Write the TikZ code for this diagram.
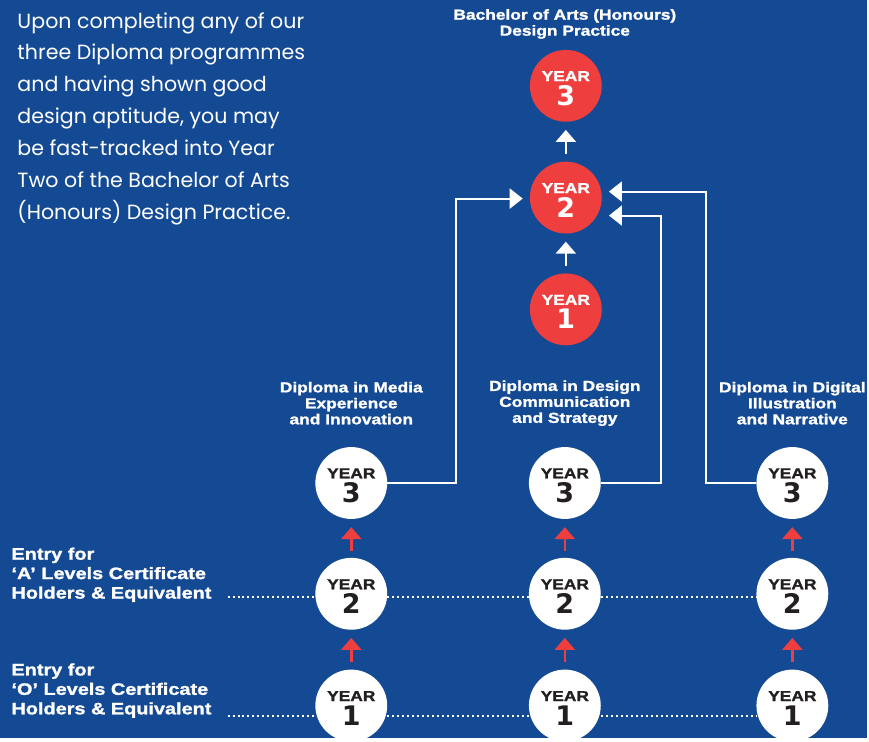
\documentclass[tikz,border=0pt]{standalone}
\usepackage{fontspec}
\setmainfont{Poppins}
\newfontfamily\gothic{Liberation Sans}[FakeStretch=1.2, BoldFeatures={FakeBold=1.4}]
\newfontfamily\digits{DejaVu Sans}
\usetikzlibrary{arrows.meta}

\definecolor{bgblue}{HTML}{144A94}
\definecolor{yearred}{HTML}{EE3E3E}
\definecolor{inkdark}{HTML}{231F20}

\newcommand{\yr}[1]{\rule{0pt}{15pt}YEAR\\{\digits\fontsize{27}{27}\selectfont #1}}

\tikzset{
  yearbase/.style={circle, minimum size=72pt, inner sep=0pt, align=center,
    font=\gothic\bfseries\fontsize{14.5}{24}\selectfont},
  redyear/.style={yearbase, fill=yearred, text=white},
  whiteyear/.style={yearbase, fill=white, text=inkdark},
  headtext/.style={text=white, align=center, font=\gothic\bfseries\fontsize{14.5}{16}\selectfont},
  entrytext/.style={text=white, align=left, anchor=west, font=\gothic\bfseries\fontsize{16.6}{19.5}\selectfont},
  uparrow/.style={line width=2.5pt, -{Triangle[width=20pt,length=12pt]}, shorten <=7pt, shorten >=8pt},
  flow/.style={draw=white, line width=2pt, -{Triangle[width=20pt,length=13pt]}, shorten >=7pt},
  dotline/.style={draw=white, line width=2pt, dash pattern=on 2pt off 3pt}
}

\begin{document}
\begin{tikzpicture}[x=1pt,y=-1pt]
\fill[bgblue] (0,0) rectangle (869,740);

% intro text
\node[text=white, align=left, anchor=west, font=\fontsize{20.6}{32}\selectfont] (intro) at (14,119)
  {Upon completing any of our\\three Diploma programmes\\and having shown good\\design aptitude, you may\\be fast-tracked into Year\\Two of the Bachelor of Arts\\(Honours) Design Practice.};

% degree
\node[headtext] (batitle) at (566,24) {Bachelor of Arts (Honours)\\Design Practice};
\node[redyear] (b3) at (567,86) {\yr{3}};
\node[redyear] (b2) at (567,198) {\yr{2}};
\node[redyear] (b1) at (567,310) {\yr{1}};

% diplomas
\node[headtext] (mtitle) at (352,404) {Diploma in Media\\Experience\\and Innovation};
\node[headtext] (ctitle) at (566,404) {Diploma in Design\\Communication\\and Strategy};
\node[headtext] (dtitle) at (794,404) {Diploma in Digital\\Illustration\\and Narrative};

\node[whiteyear] (m3) at (352,484) {\yr{3}};
\node[whiteyear] (m2) at (352,595) {\yr{2}};
\node[whiteyear] (m1) at (352,707) {\yr{1}};
\node[whiteyear] (c3) at (566,484) {\yr{3}};
\node[whiteyear] (c2) at (566,595) {\yr{2}};
\node[whiteyear] (c1) at (566,707) {\yr{1}};
\node[whiteyear] (d3) at (794,484) {\yr{3}};
\node[whiteyear] (d2) at (794,595) {\yr{2}};
\node[whiteyear] (d1) at (794,707) {\yr{1}};

% entry levels
\node[entrytext] (aentry) at (8,576) {Entry for\\‘A’ Levels Certificate\\Holders \& Equivalent};
\node[entrytext] (oentry) at (8,692) {Entry for\\‘O’ Levels Certificate\\Holders \& Equivalent};

\coordinate (alvl) at (228,598);
\coordinate (olvl) at (228,717);
\coordinate (mbend) at (457,199);
\coordinate (cbend) at (662,216);
\coordinate (dbend) at (707,192);

\path[draw=white,uparrow] (b1) -- (b2);
\path[draw=white,uparrow] (b2) -- (b3);
\path[draw=yearred,uparrow] (m1) -- (m2);
\path[draw=yearred,uparrow] (m2) -- (m3);
\path[draw=yearred,uparrow] (c1) -- (c2);
\path[draw=yearred,uparrow] (c2) -- (c3);
\path[draw=yearred,uparrow] (d1) -- (d2);
\path[draw=yearred,uparrow] (d2) -- (d3);

\path[flow] (m3.east) -| (mbend) -- (b2.west |- mbend);
\path[flow] (c3.east) -| (cbend) -- (b2.east |- cbend);
\path[flow] (d3.west) -| (dbend) -- (b2.east |- dbend);

\path[dotline] (alvl) -- (m2.west |- alvl);
\path[dotline] (m2.east |- alvl) -- (c2.west |- alvl);
\path[dotline] (c2.east |- alvl) -- (d2.west |- alvl);
\path[dotline] (olvl) -- (m1.west |- olvl);
\path[dotline] (m1.east |- olvl) -- (c1.west |- olvl);
\path[dotline] (c1.east |- olvl) -- (d1.west |- olvl);
\end{tikzpicture}
\end{document}
